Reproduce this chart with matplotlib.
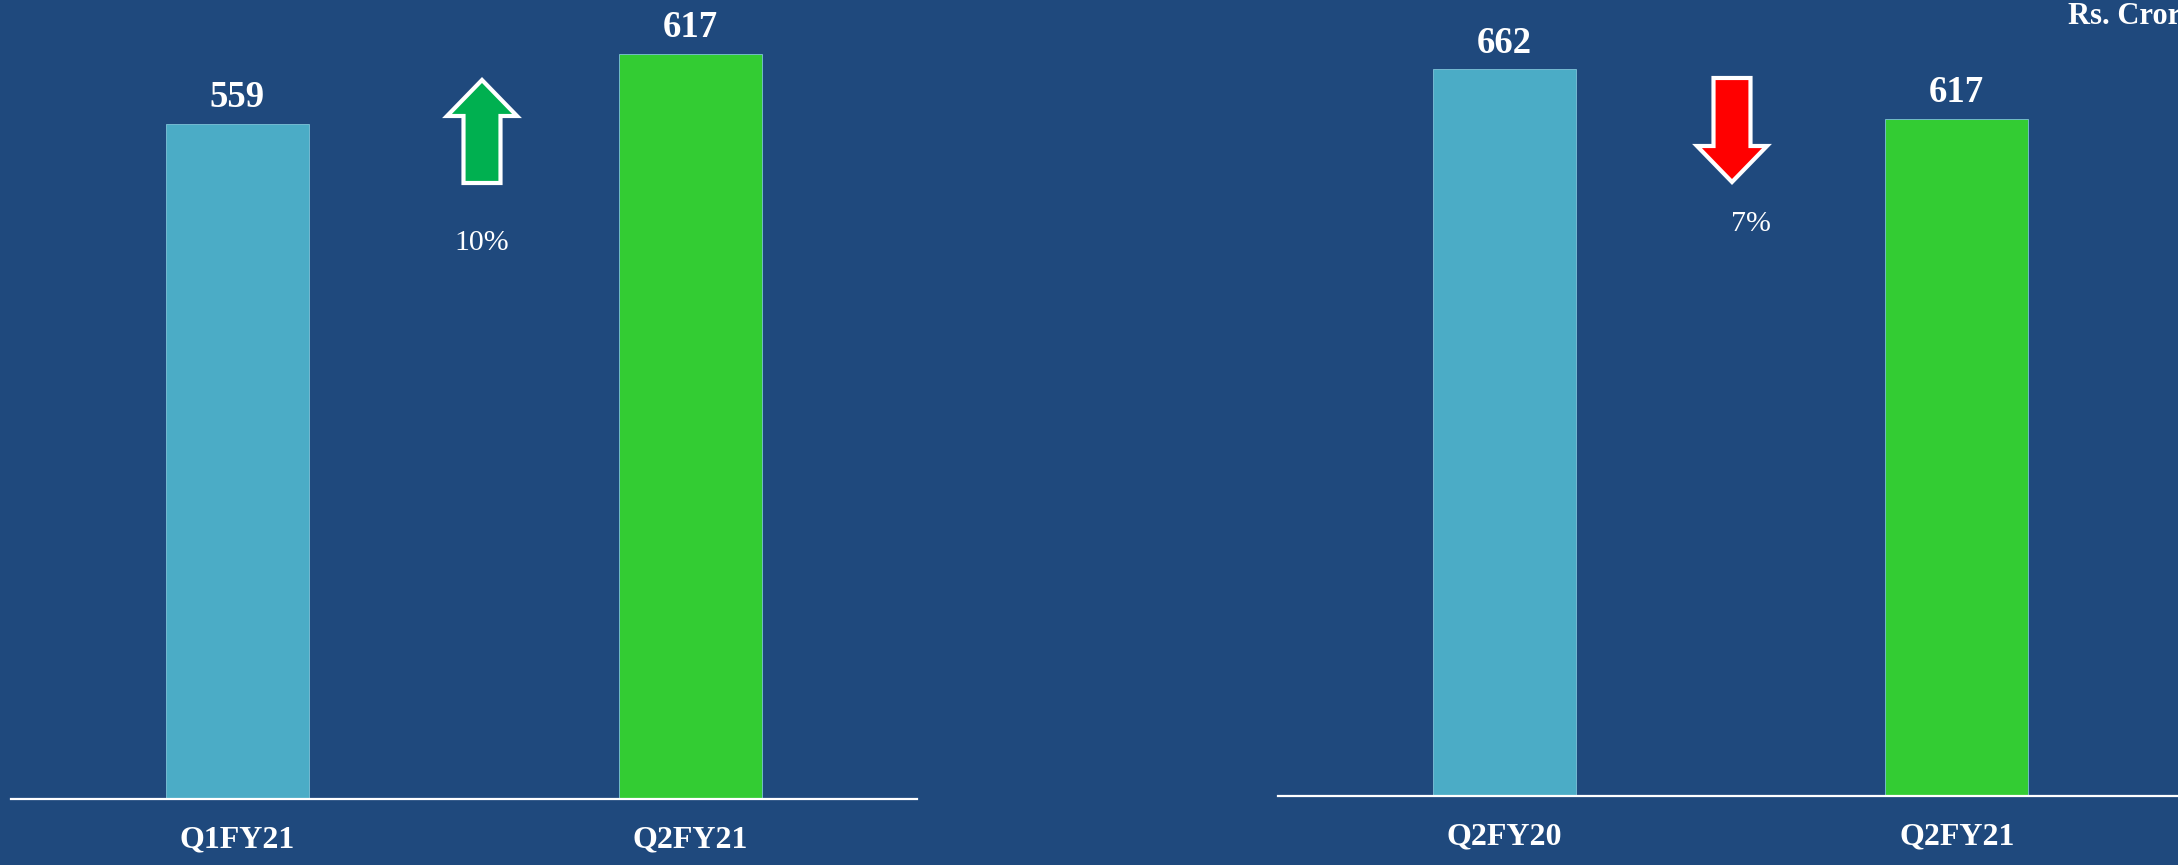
import matplotlib
matplotlib.use("Agg")
import matplotlib.pyplot as plt
from matplotlib.patches import FancyArrow

# data
left_cats = ["Q1FY21", "Q2FY21"]
left_vals = [559, 617]
left_change = "10%"

right_cats = ["Q2FY20", "Q2FY21"]
right_vals = [662, 617]
right_change = "7%"

unit_label = "Rs. Crore"

BG = "#1F497D"
BAR_COLORS = ["#4BACC6", "#33CC33"]
FONT = ["Liberation Serif", "DejaVu Serif"]

W, H = 2178, 865
fig = plt.figure(figsize=(W / 100, H / 100), dpi=100, facecolor=BG)


def px_axes(x0, x1, base):
    # axes from pixel box (top of figure down to baseline)
    return fig.add_axes([x0 / W, (H - base) / H, (x1 - x0) / W, base / H])


def draw_panel(ax, cats, vals, ymax):
    ax.set_facecolor(BG)
    xs = range(len(cats))
    ax.bar(xs, vals, width=0.315, color=BAR_COLORS, edgecolor="#7FC4D8", linewidth=0.6)
    ax.set_xlim(-0.5, 1.5)
    ax.set_ylim(0, ymax)
    for x, v in zip(xs, vals):
        ax.annotate(str(v), (x, v), xytext=(0, 19), textcoords="offset points",
                    ha="center", va="center", color="white", fontsize=26.5,
                    fontweight="bold", family=FONT)
    for s in ["top", "left", "right"]:
        ax.spines[s].set_visible(False)
    ax.spines["bottom"].set_color("white")
    ax.spines["bottom"].set_linewidth(1.6)
    ax.set_yticks([])
    ax.set_xticks(list(xs))
    ax.set_xticklabels(cats, color="white", fontsize=23, fontweight="bold", family=FONT)
    ax.tick_params(axis="x", length=0, pad=19)


ax1 = px_axes(11, 917, 799)
draw_panel(ax1, left_cats, left_vals, 799 / 1.2075)

ax2 = px_axes(1278, 2183, 796)
draw_panel(ax2, right_cats, right_vals, 796 / 1.0975)


def block_arrow(cx, y_from, y_to, color):
    # positions in pixels from top-left, converted to inches
    x = cx / 100
    y0 = (H - y_from) / 100
    y1 = (H - y_to) / 100
    arr = FancyArrow(x, y0, 0, y1 - y0, width=0.37, head_width=0.70, head_length=0.36,
                     length_includes_head=True, facecolor=color, edgecolor="white",
                     linewidth=3, transform=fig.dpi_scale_trans)
    fig.patches.append(arr)


block_arrow(482, 183, 80, "#00B050")
block_arrow(1732, 78, 182, "#FF0000")

fig.text(482 / W, 1 - 243 / H, left_change, color="white", fontsize=21.5,
         ha="center", va="center", family=FONT)
fig.text(1751 / W, 1 - 224 / H, right_change, color="white", fontsize=21.5,
         ha="center", va="center", family=FONT)
fig.text(2068 / W, 1 - 16 / H, unit_label, color="white", fontsize=22,
         fontweight="bold", ha="left", va="center", family=FONT)

fig.savefig("out.png", dpi=100, facecolor=BG)
